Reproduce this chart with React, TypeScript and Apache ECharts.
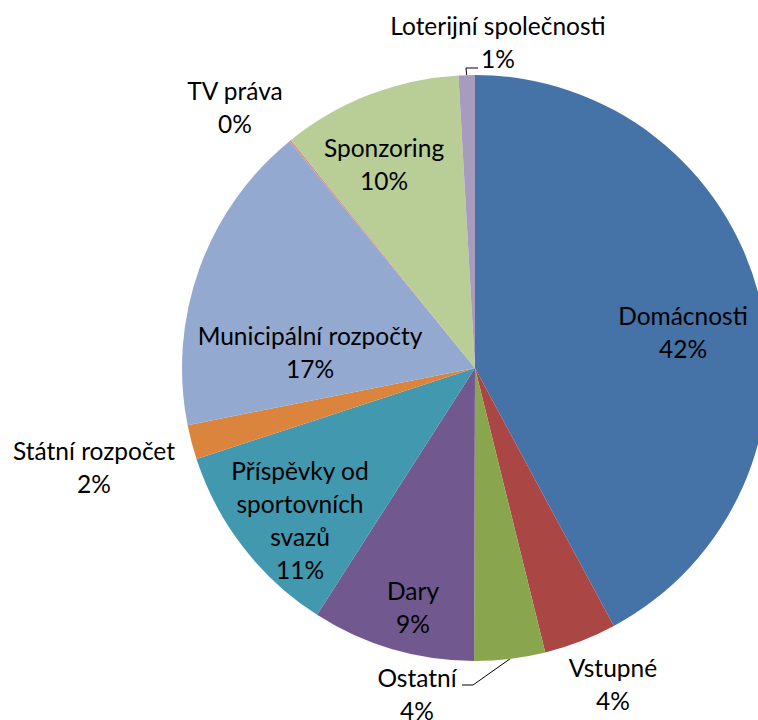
import React, { useEffect, useRef } from "react";
import * as echarts from "echarts";

// ---- data ----
const categories = [
  "Domácnosti",
  "Vstupné",
  "Ostatní",
  "Dary",
  "Příspěvky od\nsportovních\nsvazů",
  "Státní rozpočet",
  "Municipální rozpočty",
  "TV práva",
  "Sponzoring",
  "Loterijní společnosti",
];
const shares = [42.1, 4.0, 3.9, 9.0, 10.9, 1.9, 17.2, 0.1, 9.9, 0.9];

// ---- styles / layout ----
const sliceColors = [
  "#4572A7", "#AA4643", "#89A54E", "#71588F", "#4198AF",
  "#DB843D", "#93A9CF", "#D19392", "#B9CD96", "#A99BBD",
];
const insideLabel = [true, false, false, true, true, false, true, false, true, false];
const withLeader = [false, false, true, false, false, false, false, false, false, true];
const CX = 475;
const CY = 368;
const R = 293;
const LABEL_SHIFT_Y = -2;
// label centre offsets from the pie centre
const labelOffsets: number[][] = [
  [208, -34], [138, 318], [-58, 328], [-62, 241], [-175, 154],
  [-381, 101], [-165, -14], [-240, -259], [-91, -202], [23, -324],
];
// leader line bend / end relative to the label centre
const leaderBends: Record<number, number[][]> = {
  2: [[56, -9], [45, -9]],
  9: [[-32, 26], [-20, 26]],
};

const FONT = "Lato, 'Noto Sans', sans-serif";

export default function App() {
  const ref = useRef<HTMLDivElement>(null);

  useEffect(() => {
    if (!ref.current) return;
    const chart = echarts.init(ref.current, undefined, { renderer: "svg" });
    const total = shares.reduce((a, b) => a + b, 0);
    const midAngles: number[] = [];
    let acc = 0;
    shares.forEach((v) => {
      midAngles.push(((acc + v / 2) / total) * 360);
      acc += v;
    });

    const data = categories.map((name, i) => ({
      name,
      value: shares[i],
      itemStyle: { color: sliceColors[i] },
      label: { position: insideLabel[i] ? "inside" : "outside" },
      labelLine: {
        show: withLeader[i],
        lineStyle: { color: "#000", width: 1 },
        length: 10,
        length2: 10,
      },
    }));

    chart.setOption({
      animation: false,
      backgroundColor: "#fff",
      series: [
        {
          type: "pie",
          center: [CX, CY],
          radius: R,
          startAngle: 90,
          clockwise: true,
          avoidLabelOverlap: false,
          silent: true,
          emphasis: { disabled: true },
          itemStyle: { borderWidth: 0 },
          label: {
            show: true,
            color: "#000",
            fontFamily: FONT,
            fontSize: 24.5,
            lineHeight: 32.7,
            align: "center",
            formatter: (p: any) =>
              `${p.name}\n${Math.round((p.value / total) * 100)}%`,
          },
          labelLayout: (p: any) => {
            const i = p.dataIndex;
            const [dx, dy] = labelOffsets[i];
            const x = CX + dx;
            const y = CY + dy + LABEL_SHIFT_Y;
            const out: any = { x, y, align: "center", verticalAlign: "middle" };
            if (withLeader[i]) {
              const a = (midAngles[i] * Math.PI) / 180;
              const sx = CX + R * Math.sin(a);
              const sy = CY - R * Math.cos(a);
              const b = leaderBends[i];
              out.labelLinePoints = [
                [sx, sy],
                [x + b[0][0], y + b[0][1]],
                [x + b[1][0], y + b[1][1]],
              ];
            }
            return out;
          },
          data,
        },
      ],
    });
    return () => chart.dispose();
  }, []);

  return (
    <div
      ref={ref}
      style={{ position: "fixed", left: 0, top: 0, width: 758, height: 720, background: "#fff" }}
    />
  );
}
